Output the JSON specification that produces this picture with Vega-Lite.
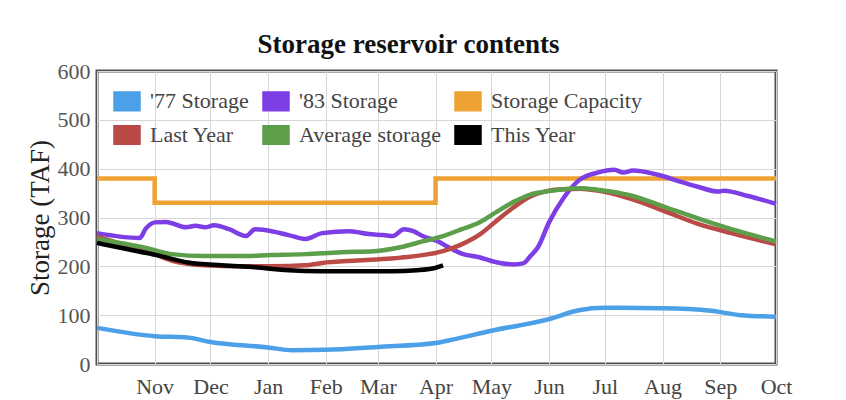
{
  "$schema": "https://vega.github.io/schema/vega-lite/v6.json",
  "autosize": "none",
  "width": 679,
  "height": 293,
  "padding": {"left": 97, "top": 71, "right": 70, "bottom": 36},
  "background": "white",
  "title": {"text": "Storage reservoir contents", "font": "Liberation Serif", "fontSize": 27, "fontWeight": "bold", "color": "#111111", "anchor": "middle", "dx": -28, "offset": 1},
  "config": {
    "view": {"stroke": "#505050", "strokeWidth": 3},
    "font": "Liberation Serif",
    "axis": {"labelFont": "Liberation Serif", "titleFont": "Liberation Serif", "gridColor": "#d6d6d6", "gridWidth": 1, "domain": false, "ticks": false}
  },
  "data": {"values": [
    {"s": "'77 Storage", "d": "2021-10-01", "v": 74},
    {"s": "'77 Storage", "d": "2021-11-01", "v": 57},
    {"s": "'77 Storage", "d": "2021-11-19", "v": 54},
    {"s": "'77 Storage", "d": "2021-12-01", "v": 45},
    {"s": "'77 Storage", "d": "2022-01-01", "v": 34},
    {"s": "'77 Storage", "d": "2022-01-14", "v": 28},
    {"s": "'77 Storage", "d": "2022-02-01", "v": 29},
    {"s": "'77 Storage", "d": "2022-03-01", "v": 35},
    {"s": "'77 Storage", "d": "2022-04-01", "v": 43},
    {"s": "'77 Storage", "d": "2022-04-10", "v": 50},
    {"s": "'77 Storage", "d": "2022-05-01", "v": 68},
    {"s": "'77 Storage", "d": "2022-06-01", "v": 92},
    {"s": "'77 Storage", "d": "2022-06-17", "v": 110},
    {"s": "'77 Storage", "d": "2022-07-01", "v": 115},
    {"s": "'77 Storage", "d": "2022-08-01", "v": 114},
    {"s": "'77 Storage", "d": "2022-08-27", "v": 109},
    {"s": "'77 Storage", "d": "2022-09-12", "v": 100},
    {"s": "'77 Storage", "d": "2022-10-01", "v": 97},
    {"s": "'83 Storage", "d": "2021-10-01", "v": 268},
    {"s": "'83 Storage", "d": "2021-10-24", "v": 258},
    {"s": "'83 Storage", "d": "2021-10-27", "v": 276},
    {"s": "'83 Storage", "d": "2021-11-01", "v": 290},
    {"s": "'83 Storage", "d": "2021-11-07", "v": 291},
    {"s": "'83 Storage", "d": "2021-11-18", "v": 280},
    {"s": "'83 Storage", "d": "2021-11-23", "v": 283},
    {"s": "'83 Storage", "d": "2021-11-28", "v": 280},
    {"s": "'83 Storage", "d": "2021-12-03", "v": 284},
    {"s": "'83 Storage", "d": "2021-12-11", "v": 276},
    {"s": "'83 Storage", "d": "2021-12-20", "v": 262},
    {"s": "'83 Storage", "d": "2021-12-25", "v": 276},
    {"s": "'83 Storage", "d": "2021-12-31", "v": 274},
    {"s": "'83 Storage", "d": "2022-01-12", "v": 264},
    {"s": "'83 Storage", "d": "2022-01-21", "v": 256},
    {"s": "'83 Storage", "d": "2022-01-30", "v": 268},
    {"s": "'83 Storage", "d": "2022-02-14", "v": 272},
    {"s": "'83 Storage", "d": "2022-02-24", "v": 266},
    {"s": "'83 Storage", "d": "2022-03-04", "v": 264},
    {"s": "'83 Storage", "d": "2022-03-09", "v": 262},
    {"s": "'83 Storage", "d": "2022-03-15", "v": 276},
    {"s": "'83 Storage", "d": "2022-03-20", "v": 272},
    {"s": "'83 Storage", "d": "2022-03-25", "v": 262},
    {"s": "'83 Storage", "d": "2022-04-03", "v": 250},
    {"s": "'83 Storage", "d": "2022-04-07", "v": 241},
    {"s": "'83 Storage", "d": "2022-04-15", "v": 226},
    {"s": "'83 Storage", "d": "2022-04-25", "v": 218},
    {"s": "'83 Storage", "d": "2022-05-01", "v": 211},
    {"s": "'83 Storage", "d": "2022-05-13", "v": 204},
    {"s": "'83 Storage", "d": "2022-05-18", "v": 206},
    {"s": "'83 Storage", "d": "2022-05-22", "v": 221},
    {"s": "'83 Storage", "d": "2022-05-26", "v": 239},
    {"s": "'83 Storage", "d": "2022-06-01", "v": 290},
    {"s": "'83 Storage", "d": "2022-06-09", "v": 341},
    {"s": "'83 Storage", "d": "2022-06-17", "v": 376},
    {"s": "'83 Storage", "d": "2022-06-27", "v": 392},
    {"s": "'83 Storage", "d": "2022-07-06", "v": 398},
    {"s": "'83 Storage", "d": "2022-07-11", "v": 392},
    {"s": "'83 Storage", "d": "2022-07-16", "v": 396},
    {"s": "'83 Storage", "d": "2022-07-29", "v": 388},
    {"s": "'83 Storage", "d": "2022-08-11", "v": 373},
    {"s": "'83 Storage", "d": "2022-08-20", "v": 363},
    {"s": "'83 Storage", "d": "2022-08-31", "v": 353},
    {"s": "'83 Storage", "d": "2022-09-03", "v": 355},
    {"s": "'83 Storage", "d": "2022-09-16", "v": 344},
    {"s": "'83 Storage", "d": "2022-10-01", "v": 328},
    {"s": "Storage Capacity", "d": "2021-10-01", "v": 380},
    {"s": "Storage Capacity", "d": "2021-11-01", "v": 330},
    {"s": "Storage Capacity", "d": "2022-04-01", "v": 380},
    {"s": "Storage Capacity", "d": "2022-10-01", "v": 380},
    {"s": "Last Year", "d": "2021-10-01", "v": 261},
    {"s": "Last Year", "d": "2021-10-15", "v": 245},
    {"s": "Last Year", "d": "2021-10-28", "v": 231},
    {"s": "Last Year", "d": "2021-11-10", "v": 212},
    {"s": "Last Year", "d": "2021-11-28", "v": 202},
    {"s": "Last Year", "d": "2021-12-16", "v": 200},
    {"s": "Last Year", "d": "2022-01-03", "v": 200},
    {"s": "Last Year", "d": "2022-01-21", "v": 202},
    {"s": "Last Year", "d": "2022-01-30", "v": 207},
    {"s": "Last Year", "d": "2022-02-18", "v": 212},
    {"s": "Last Year", "d": "2022-03-08", "v": 216},
    {"s": "Last Year", "d": "2022-03-25", "v": 223},
    {"s": "Last Year", "d": "2022-04-05", "v": 231},
    {"s": "Last Year", "d": "2022-04-15", "v": 245},
    {"s": "Last Year", "d": "2022-04-25", "v": 266},
    {"s": "Last Year", "d": "2022-05-04", "v": 294},
    {"s": "Last Year", "d": "2022-05-13", "v": 321},
    {"s": "Last Year", "d": "2022-05-22", "v": 343},
    {"s": "Last Year", "d": "2022-06-01", "v": 355},
    {"s": "Last Year", "d": "2022-06-09", "v": 358},
    {"s": "Last Year", "d": "2022-06-18", "v": 359},
    {"s": "Last Year", "d": "2022-06-27", "v": 355},
    {"s": "Last Year", "d": "2022-07-15", "v": 338},
    {"s": "Last Year", "d": "2022-08-02", "v": 313},
    {"s": "Last Year", "d": "2022-08-20", "v": 287},
    {"s": "Last Year", "d": "2022-09-07", "v": 268},
    {"s": "Last Year", "d": "2022-10-01", "v": 245},
    {"s": "Average storage", "d": "2021-10-01", "v": 256},
    {"s": "Average storage", "d": "2021-10-28", "v": 237},
    {"s": "Average storage", "d": "2021-11-10", "v": 225},
    {"s": "Average storage", "d": "2021-11-28", "v": 221},
    {"s": "Average storage", "d": "2021-12-16", "v": 221},
    {"s": "Average storage", "d": "2022-01-03", "v": 223},
    {"s": "Average storage", "d": "2022-01-21", "v": 225},
    {"s": "Average storage", "d": "2022-02-09", "v": 229},
    {"s": "Average storage", "d": "2022-02-27", "v": 231},
    {"s": "Average storage", "d": "2022-03-13", "v": 239},
    {"s": "Average storage", "d": "2022-03-25", "v": 251},
    {"s": "Average storage", "d": "2022-04-05", "v": 262},
    {"s": "Average storage", "d": "2022-04-15", "v": 276},
    {"s": "Average storage", "d": "2022-04-25", "v": 291},
    {"s": "Average storage", "d": "2022-05-04", "v": 312},
    {"s": "Average storage", "d": "2022-05-13", "v": 332},
    {"s": "Average storage", "d": "2022-05-22", "v": 347},
    {"s": "Average storage", "d": "2022-06-01", "v": 354},
    {"s": "Average storage", "d": "2022-06-09", "v": 358},
    {"s": "Average storage", "d": "2022-06-18", "v": 360},
    {"s": "Average storage", "d": "2022-06-27", "v": 357},
    {"s": "Average storage", "d": "2022-07-15", "v": 345},
    {"s": "Average storage", "d": "2022-08-02", "v": 322},
    {"s": "Average storage", "d": "2022-08-20", "v": 298},
    {"s": "Average storage", "d": "2022-09-07", "v": 276},
    {"s": "Average storage", "d": "2022-10-01", "v": 251},
    {"s": "This Year", "d": "2021-10-01", "v": 248},
    {"s": "This Year", "d": "2021-10-15", "v": 237},
    {"s": "This Year", "d": "2021-11-02", "v": 223},
    {"s": "This Year", "d": "2021-11-19", "v": 208},
    {"s": "This Year", "d": "2021-12-07", "v": 202},
    {"s": "This Year", "d": "2021-12-25", "v": 198},
    {"s": "This Year", "d": "2022-01-12", "v": 192},
    {"s": "This Year", "d": "2022-01-30", "v": 190},
    {"s": "This Year", "d": "2022-02-18", "v": 190},
    {"s": "This Year", "d": "2022-03-08", "v": 190},
    {"s": "This Year", "d": "2022-03-22", "v": 192},
    {"s": "This Year", "d": "2022-03-31", "v": 196},
    {"s": "This Year", "d": "2022-04-05", "v": 202}
  ]},
  "encoding": {
    "x": {
      "field": "d", "type": "temporal",
      "scale": {"type": "utc", "domain": [{"year": 2021, "month": 10, "date": 1, "utc": true}, {"year": 2022, "month": 10, "date": 1, "utc": true}]},
      "axis": {"title": null, "tickCount": {"interval": "month", "step": 1}, "labelExpr": "utcmonth(datum.value) == 9 && utcyear(datum.value) == 2021 ? '' : utcFormat(datum.value, '%b')", "labelFlush": false, "labelOverlap": false, "labelFontSize": 22, "labelColor": "#444444", "labelPadding": 12, "grid": true}
    },
    "y": {
      "field": "v", "type": "quantitative",
      "scale": {"domain": [0, 600]},
      "axis": {"title": "Storage (TAF)", "values": [0, 100, 200, 300, 400, 500, 600], "labelFontSize": 22, "labelColor": "#555555", "labelPadding": 7, "titleFontSize": 27, "titleFontWeight": "normal", "titleColor": "#222222", "titlePadding": 3, "grid": true}
    }
  },
  "layer": [
    {
      "transform": [{"filter": "false"}],
      "mark": {"type": "point", "filled": true, "shape": "M-1,-0.72H1V0.72H-1Z", "stroke": "#cccccc", "strokeWidth": 1.5},
      "encoding": {
        "color": {
          "field": "s", "type": "nominal",
          "scale": {"domain": ["'77 Storage", "'83 Storage", "Storage Capacity", "Last Year", "Average storage", "This Year"], "range": ["#4ca0e8", "#7d3ee6", "#efa234", "#bb4a47", "#5c9e4a", "#000000"]},
          "legend": {"title": null, "orient": "none", "legendX": 16, "legendY": 16, "direction": "horizontal", "columns": 3, "symbolType": "M-1,-0.72H1V0.72H-1Z", "symbolSize": 676, "symbolStrokeColor": "#cccccc", "symbolStrokeWidth": 1.5, "symbolOpacity": 1, "labelFont": "Liberation Serif", "labelFontSize": 22, "labelColor": "#444444", "labelOffset": 9, "columnPadding": 11, "rowPadding": 7, "labelLimit": 300}
        }
      }
    },
    {
      "transform": [{"filter": "datum.s == 'Storage Capacity'"}],
      "mark": {"type": "line", "interpolate": "step-after", "strokeWidth": 4.5},
      "encoding": {"color": {"field": "s", "type": "nominal", "legend": null}}
    },
    {
      "transform": [{"filter": "datum.s != 'Storage Capacity'"}],
      "mark": {"type": "line", "interpolate": "monotone", "strokeWidth": 4.5, "strokeJoin": "round"},
      "encoding": {"color": {"field": "s", "type": "nominal", "legend": null}}
    }
  ]
}
